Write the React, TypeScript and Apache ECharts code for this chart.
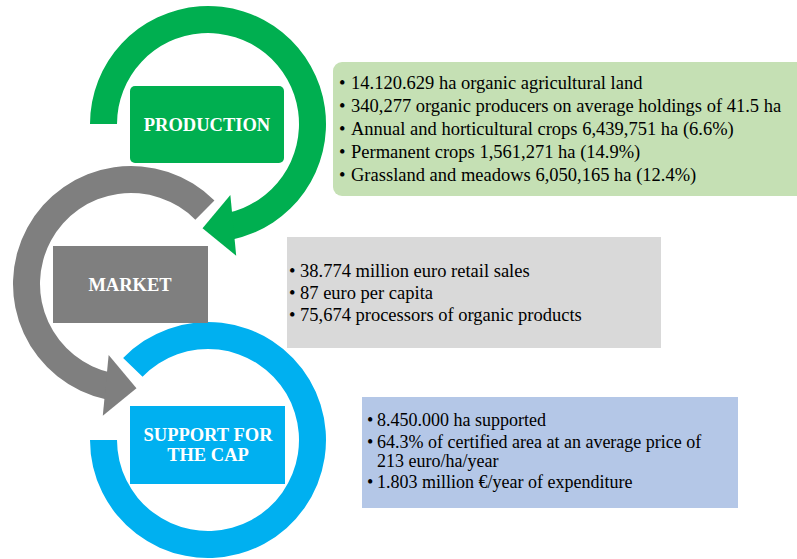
import React, { useEffect, useRef } from "react";
import * as echarts from "echarts";

const stageLabels = ["PRODUCTION", "MARKET", "SUPPORT FOR\nTHE CAP"];
const productionItems = [
  "14.120.629 ha organic agricultural land",
  "340,277 organic producers on average holdings of 41.5 ha",
  "Annual and horticultural crops 6,439,751 ha (6.6%)",
  "Permanent crops 1,561,271 ha (14.9%)",
  "Grassland and meadows 6,050,165 ha (12.4%)",
];
const marketItems = [
  "38.774 million euro retail sales",
  "87 euro per capita",
  "75,674 processors of organic products",
];
const supportItems = [
  "8.450.000 ha supported",
  "64.3% of certified area at an average price of\n213 euro/ha/year",
  "1.803 million €/year of expenditure",
];

const SERIF = "Liberation Serif";
const GREEN = "#00AF50";
const GRAY = "#7F7F7F";
const BLUE = "#00B0F0";
const R_OUT = 118;
const R_IN = 91;
const deg = Math.PI / 180;

function arrowHead(cx: number, cy: number, endDeg: number, dir: number, color: string) {
  const rm = (R_IN + R_OUT) / 2;
  const a = endDeg * deg;
  const t = (endDeg + dir * 17) * deg;
  const M = [cx + rm * Math.cos(a), cy + rm * Math.sin(a)];
  const T = [cx + rm * Math.cos(t), cy + rm * Math.sin(t)];
  const dx = T[0] - M[0];
  const dy = T[1] - M[1];
  const len = Math.hypot(dx, dy);
  const px = -dy / len;
  const py = dx / len;
  const h = 30.5;
  return {
    type: "polygon",
    shape: {
      points: [
        [M[0] + px * h, M[1] + py * h],
        T,
        [M[0] - px * h, M[1] - py * h],
      ],
    },
    style: { fill: color },
  };
}

function ring(cx: number, cy: number, s: number, e: number, color: string) {
  return {
    type: "sector",
    shape: { cx, cy, r0: R_IN, r: R_OUT, startAngle: s * deg, endAngle: e * deg, clockwise: true },
    style: { fill: color },
  };
}

function txt(text: string, x: number, y: number, size: number) {
  return {
    type: "text",
    x,
    y,
    style: {
      text,
      fontSize: size,
      fontFamily: SERIF,
      fill: "#000",
      verticalAlign: "middle",
      align: "left",
    },
  };
}

function bulletList(
  items: string[],
  bx: number,
  tx: number,
  y0: number,
  itemGap: number,
  wrapGap: number,
  size: number
) {
  const els: any[] = [];
  let y = y0;
  items.forEach((it, i) => {
    if (i > 0) y += itemGap;
    const lines = it.split("\n");
    els.push(txt("•", bx, y, size));
    lines.forEach((ln, j) => {
      if (j > 0) y += wrapGap;
      els.push(txt(ln, tx, y, size));
    });
  });
  return els;
}

function label(text: string, x: number, y: number) {
  return {
    type: "text",
    x,
    y,
    style: {
      text,
      fontSize: 18.5,
      fontWeight: "bold",
      fontFamily: SERIF,
      fill: "#fff",
      align: "center",
      verticalAlign: "middle",
      lineHeight: 20,
    },
  };
}

export default function App() {
  const ref = useRef<HTMLDivElement>(null);
  useEffect(() => {
    if (!ref.current) return;
    const chart = echarts.init(ref.current, null, { renderer: "svg" });
    const elements: any[] = [
      // rings
      ring(208, 124, 180, 438, GREEN),
      arrowHead(208, 124, 76, 1, GREEN),
      ring(131, 284, 102, 315, GRAY),
      arrowHead(131, 284, 104, -1, GRAY),
      ring(208, 440, -136, 180, BLUE),
      // stage boxes
      { type: "rect", shape: { x: 130, y: 86, width: 154, height: 77, r: 5 }, style: { fill: GREEN } },
      label(stageLabels[0], 207, 125),
      { type: "rect", shape: { x: 53, y: 246, width: 155, height: 77 }, style: { fill: GRAY } },
      label(stageLabels[1], 130, 285),
      { type: "rect", shape: { x: 130, y: 406, width: 155, height: 78 }, style: { fill: BLUE } },
      label(stageLabels[2], 208, 445),
      // info boxes
      { type: "rect", shape: { x: 333, y: 62, width: 480, height: 134, r: 9 }, style: { fill: "#C5E0B4" } },
      ...bulletList(productionItems, 339, 351, 83, 23, 19, 18.5),
      { type: "rect", shape: { x: 287, y: 237, width: 374, height: 111 }, style: { fill: "#D9D9D9" } },
      ...bulletList(marketItems, 289, 300, 271, 22, 19, 18.5),
      { type: "rect", shape: { x: 362, y: 397, width: 376, height: 111 }, style: { fill: "#B4C7E7" } },
      ...bulletList(supportItems, 367, 377, 420, 21.5, 19, 18),
    ];
    chart.setOption({ animation: false, graphic: { elements } });
    return () => chart.dispose();
  }, []);
  return (
    <div
      ref={ref}
      style={{ position: "fixed", left: 0, top: 0, width: 797, height: 559, background: "#fff" }}
    />
  );
}
